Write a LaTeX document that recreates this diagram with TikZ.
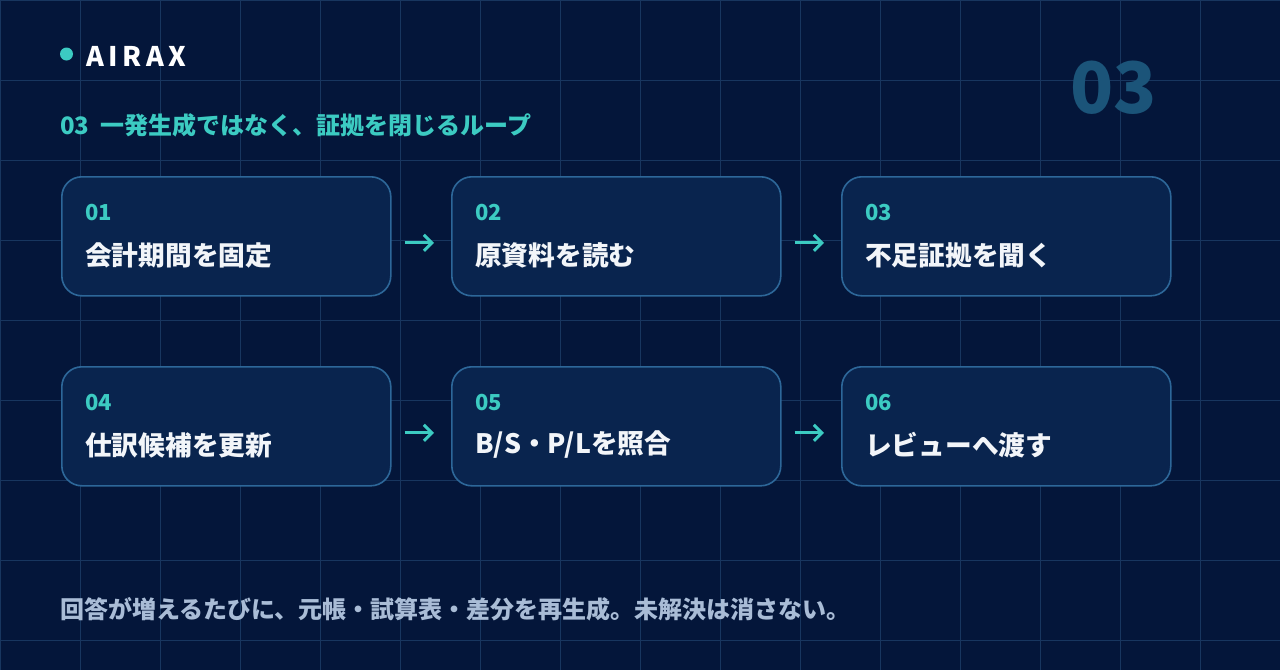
\documentclass[tikz,border=0pt]{standalone}
\usepackage{fontspec}
\setmainfont{Noto Sans CJK JP}
\usetikzlibrary{arrows.meta}
\definecolor{bg}{HTML}{04163A}
\definecolor{gridc}{HTML}{18365F}
\definecolor{boxfill}{HTML}{09244E}
\definecolor{boxline}{HTML}{2D6799}
\definecolor{teal}{HTML}{3CCBC2}
\definecolor{bignum}{HTML}{1B5479}
\definecolor{foot}{HTML}{A9BCD6}
\definecolor{titlec}{HTML}{F2F5F9}
\tikzset{
  stepbox/.style={draw=boxline, line width=1.6pt, fill=boxfill, rounded corners=20pt,
    minimum width=329pt, minimum height=119pt, inner sep=0pt, anchor=north west},
  numtext/.style={anchor=west, inner sep=0pt, text=teal, font=\fontsize{22}{24}\selectfont\bfseries},
  titletext/.style={anchor=west, inner sep=0pt, text=titlec, font=\fontsize{26.7}{30}\selectfont\bfseries},
  flowarrow/.style={draw=teal, line width=3pt, -{Straight Barb[length=8pt,width=16pt,line width=3pt]},
    shorten <=13pt, shorten >=17pt},
}
\begin{document}
\begin{tikzpicture}[x=1pt,y=-1pt]
\fill[bg] (0,0) rectangle (1280,670);
\useasboundingbox (0,0) rectangle (1280,670);
% grid
\foreach \gx in {0,80,...,1280} \draw[gridc, line width=1pt] (\gx,0) -- (\gx,670);
\foreach \gy in {0,80,...,640} \draw[gridc, line width=1pt] (0,\gy) -- (1280,\gy);
% header
\fill[teal] (66.5,54) circle (6.5pt);
\node[anchor=west, inner sep=0pt, text=white, font=\fontsize{27}{30}\selectfont\bfseries\addfontfeature{LetterSpace=17}] (logo) at (86,56) {AIRAX};
\node[anchor=west, inner sep=0pt, text=teal, font=\fontsize{24}{26}\selectfont\bfseries] (sub) at (60,125) {03\hspace{11pt}一発生成ではなく、証拠を閉じるループ};
\node[anchor=west, inner sep=0pt, text=bignum, font=\fontsize{71}{80}\selectfont\bfseries] (big) at (1070,88) {03};
% boxes
\node[stepbox] (b1) at (61,176) {};
\node[stepbox] (b2) at (451,176) {};
\node[stepbox] (b3) at (841,176) {};
\node[stepbox] (b4) at (61,366) {};
\node[stepbox] (b5) at (451,366) {};
\node[stepbox] (b6) at (841,366) {};
\foreach \b/\n/\t in {b1/01/{会計期間を固定}, b2/02/{原資料を読む}, b3/03/{不足証拠を聞く},
  b4/04/{仕訳候補を更新}, b5/05/{B/S・P/Lを照合}, b6/06/{レビューへ渡す}}{
  \node[numtext] (\b n) at ([xshift=24pt,yshift=-37pt]\b.north west) {\n};
  \node[titletext] (\b t) at ([xshift=24pt,yshift=-79pt]\b.north west) {\t};
}
% arrows
\draw[flowarrow] ([yshift=-6.5pt]b1.east) -- ([yshift=-6.5pt]b2.west);
\draw[flowarrow] ([yshift=-6.5pt]b2.east) -- ([yshift=-6.5pt]b3.west);
\draw[flowarrow] ([yshift=-6.5pt]b4.east) -- ([yshift=-6.5pt]b5.west);
\draw[flowarrow] ([yshift=-6.5pt]b5.east) -- ([yshift=-6.5pt]b6.west);
% footer
\node[anchor=west, inner sep=0pt, text=foot, font=\fontsize{24}{26}\selectfont\bfseries] (footer) at (60,609) {回答が増えるたびに、元帳・試算表・差分を再生成。未解決は消さない。};
\end{tikzpicture}
\end{document}
